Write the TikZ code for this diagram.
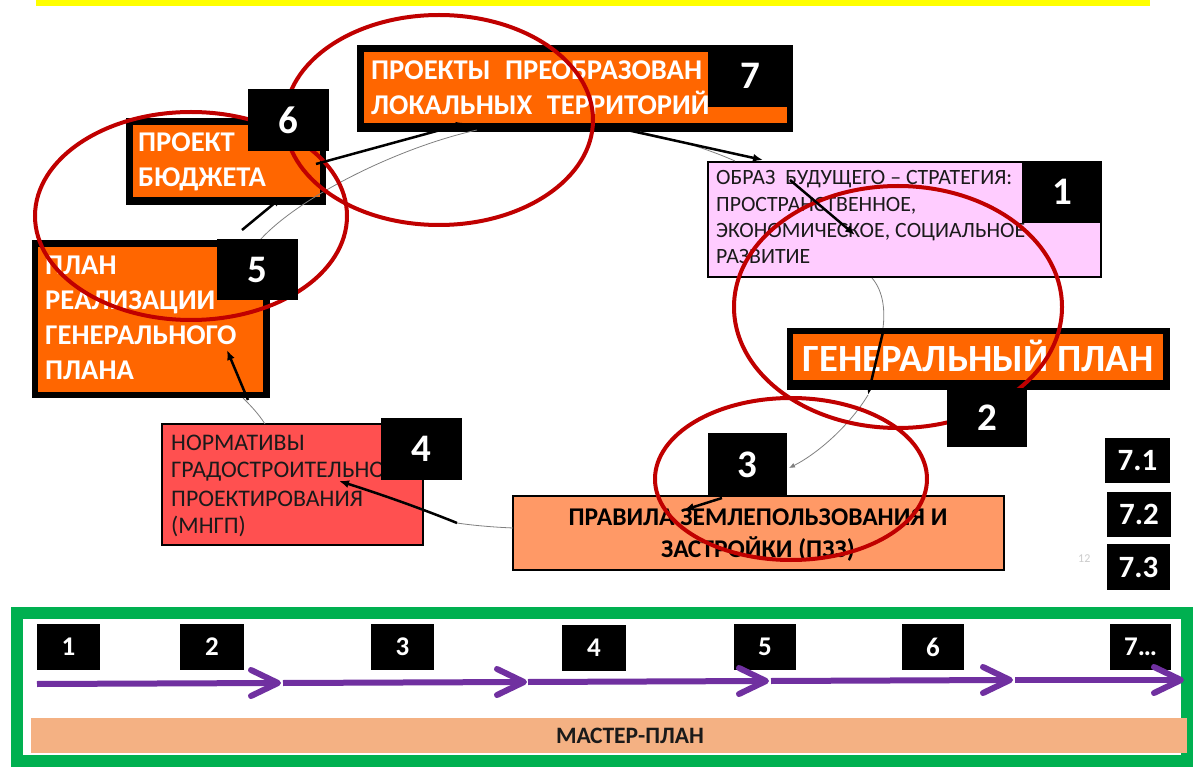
\documentclass[tikz,border=0pt]{standalone}
\usepackage{fontspec}
\setmainfont{Carlito}
\usetikzlibrary{arrows.meta,calc}
\definecolor{orng}{HTML}{FF6600}
\definecolor{pinkb}{HTML}{FFCCFF}
\definecolor{redb}{HTML}{FF5050}
\definecolor{salm}{HTML}{FF9966}
\definecolor{mastc}{HTML}{F4B183}
\definecolor{greenf}{HTML}{00B050}
\definecolor{purpc}{HTML}{7030A0}
\definecolor{ellred}{HTML}{C00000}
\definecolor{yelb}{HTML}{FFFF00}
\definecolor{darkt}{HTML}{1A1A1A}
\newcommand\myfs[2]{\fontsize{#1}{#2}\selectfont}
\begin{document}
\begin{tikzpicture}[x=1pt,y=-1pt,
  blackbox/.style={fill=black, inner sep=0pt, outer sep=0pt},
  orgbox/.style={fill=orng, inner sep=0pt, outer sep=0pt},
  numbox/.style={fill=black, text=white, font=\bfseries\myfs{39}{39}, inner sep=0pt, outer sep=0pt},
  smallnum/.style={fill=black, text=white, font=\bfseries\myfs{31}{31}, inner sep=0pt, outer sep=0pt},
  botnum/.style={fill=black, text=white, font=\bfseries\myfs{27}{27}, inner sep=0pt, outer sep=0pt, minimum height=46pt},
  wtxt/.style={text=white, font=\bfseries\myfs{28.6}{28.6}, inner sep=0pt, anchor=base west},
  ptxt/.style={text=darkt, font=\myfs{21.8}{21.8}, inner sep=0pt, anchor=base west},
  rtxt/.style={text=darkt, font=\myfs{23.8}{23.8}, inner sep=0pt, anchor=base west},
  thinln/.style={draw=gray, line width=0.8pt},
  thk/.style={draw=black, line width=2.5pt, -{Latex[length=10pt,width=8pt]}},
  redell/.style={draw=ellred, line width=4pt},
  purpline/.style={draw=purpc, line width=6pt},
  chev/.style={draw=purpc, line width=6pt, line cap=round, line join=round}
]
\useasboundingbox (0,0) rectangle (1195,767);
\fill[white] (0,0) rectangle (1195,767);

% top yellow bar
\fill[yelb] (36,0) rectangle (1150,6.5);

% ---- box 7
\node[blackbox, minimum width=436pt, minimum height=87pt] (b7out) at (575,88.5) {};
\node[orgbox, minimum width=423pt, minimum height=71pt] (b7in) at (575.5,87.5) {};
\node[wtxt] (t7a) at (371,80) {ПРОЕКТЫ\hspace{8pt} ПРЕОБРАЗОВАН};
\node[wtxt] (t7b) at (371,115) {ЛОКАЛЬНЫХ\hspace{8pt} ТЕРРИТОРИЙ};

% ---- box 6
\node[blackbox, minimum width=200pt, minimum height=87pt] (b6out) at (226,161.5) {};
\node[orgbox, minimum width=187pt, minimum height=72pt] (b6in) at (226.5,161) {};
\node[wtxt] (t6a) at (138,152) {ПРОЕКТ};
\node[wtxt] (t6b) at (138,187) {БЮДЖЕТА};

% ---- box 5
\node[blackbox, minimum width=238pt, minimum height=158pt] (b5out) at (151,319) {};
\node[orgbox, minimum width=225pt, minimum height=145pt] (b5in) at (150.5,319.5) {};
\node[wtxt] (t5a) at (45,275) {ПЛАН};
\node[wtxt] (t5b) at (45,310) {РЕАЛИЗАЦИИ};
\node[wtxt] (t5c) at (45,345) {ГЕНЕРАЛЬНОГО};
\node[wtxt] (t5d) at (45,380) {ПЛАНА};

% ---- box 1
\node[fill=pinkb, draw=black, line width=1.5pt, inner sep=0pt, minimum width=393pt, minimum height=115pt] (b1) at (904.5,219.5) {};
\node[ptxt] (t1a) at (716,185) {ОБРАЗ\hspace{5pt} БУДУЩЕГО – СТРАТЕГИЯ:};
\node[ptxt] (t1b) at (716,211.5) {ПРОСТРАНСТВЕННОЕ,};
\node[ptxt] (t1c) at (716,238) {ЭКОНОМИЧЕСКОЕ, СОЦИАЛЬНОЕ};
\node[ptxt] (t1d) at (716,264) {РАЗВИТИЕ};

% ---- box 2
\node[blackbox, minimum width=383pt, minimum height=62pt] (b2out) at (978.5,359) {};
\node[orgbox, minimum width=370pt, minimum height=46pt] (b2in) at (978,357) {};
\node[text=white, font=\bfseries\myfs{38.5}{38.5}, inner sep=0pt, anchor=base] (t2) at (978,372) {ГЕНЕРАЛЬНЫЙ ПЛАН};

% ---- box PZZ
\node[fill=salm, draw=black, line width=2pt, inner sep=0pt, minimum width=491pt, minimum height=74pt] (bp) at (758.5,533) {};
\node[text=black, font=\bfseries\myfs{25.5}{25.5}, inner sep=0pt, anchor=base] (tpa) at (758,525) {ПРАВИЛА ЗЕМЛЕПОЛЬЗОВАНИЯ И};
\node[text=black, font=\bfseries\myfs{25.5}{25.5}, inner sep=0pt, anchor=base] (tpb) at (758,557) {ЗАСТРОЙКИ (ПЗЗ)};

% ---- box 4
\node[fill=redb, draw=black, line width=2pt, inner sep=0pt, minimum width=261pt, minimum height=121pt] (b4) at (292.5,484.5) {};
\node[rtxt] (t4a) at (171,450) {НОРМАТИВЫ};
\node[rtxt] (t4b) at (171,477) {ГРАДОСТРОИТЕЛЬНО};
\node[rtxt] (t4c) at (171,506) {ПРОЕКТИРОВАНИЯ};
\node[rtxt] (t4d) at (171,533) {(МНГП)};

% ---- thin cycle lines
\coordinate (c7a) at (640,132);
\coordinate (c1a) at (735,161);
\coordinate (c1b) at (872,278);
\coordinate (c2a) at (883,328);
\coordinate (c2b) at (868,395);
\coordinate (c3a) at (789,468);
\coordinate (cpa) at (513,528);
\coordinate (cpb) at (457,523);
\coordinate (c4a) at (265,424);
\coordinate (c4b) at (243,398);
\coordinate (c5a) at (260,240);
\coordinate (c7b) at (477,130);
\draw[thinln] (c7a) .. controls (680,140) and (710,150) .. (c1a);
\draw[thinln] (c1b) .. controls (884,292) and (885,312) .. (c2a);
\draw[thinln, -{Latex[length=6pt,width=5pt]}] (c2b) .. controls (848,428) and (815,455) .. (c3a);
\draw[thinln] (cpa) .. controls (490,527) and (470,525) .. (cpb);
\draw[thinln] (c4a) .. controls (258,413) and (250,405) .. (c4b);
\draw[thinln] (c5a) .. controls (300,196) and (400,147) .. (c7b);

% ---- red ellipses
\draw[redell] (191,216) ellipse [x radius=156pt, y radius=104pt];
\draw[redell] (439,120) ellipse [x radius=154pt, y radius=105pt];
\draw[redell] (898,307) ellipse [x radius=164pt, y radius=121pt];
\draw[redell] (791,479) ellipse [x radius=136pt, y radius=81pt];

% ---- number boxes
\node[numbox, minimum width=85pt, minimum height=62pt] (n7) at (750.5,76) {7};
\node[numbox, minimum width=81pt, minimum height=62pt] (n6) at (288.5,120) {6};
\node[numbox, minimum width=81pt, minimum height=61pt] (n5) at (257.5,269.5) {5};
\node[numbox, minimum width=80pt, minimum height=62pt] (n1) at (1062,192) {1};
\node[numbox, minimum width=80pt, minimum height=59pt] (n2) at (987,417.5) {2};
\node[numbox, minimum width=79pt, minimum height=64pt] (n3) at (747.5,465) {3};
\node[numbox, minimum width=81pt, minimum height=62pt] (n4) at (421.5,449) {4};

\node[text=gray!40, font=\myfs{12}{12}, inner sep=0pt, anchor=base west] (pg) at (1078,562) {12};
\node[smallnum, minimum width=65pt, minimum height=45pt] (n71) at (1137.5,460.5) {7.1};
\node[smallnum, minimum width=64pt, minimum height=45pt] (n72) at (1139,514.5) {7.2};
\node[smallnum, minimum width=63pt, minimum height=46pt] (n73) at (1138.5,567) {7.3};

% ---- thick arrows
\coordinate (a7s) at (627,130);   \coordinate (a7e) at (763,160);
\coordinate (a1s) at (790,180);   \coordinate (a1e) at (855,235);
\coordinate (a2s) at (883,332);   \coordinate (a2e) at (868,395);
\coordinate (a3s) at (722,498);   \coordinate (a3e) at (684,510);
\coordinate (a4s) at (457,523);   \coordinate (a4e) at (339,481);
\coordinate (a5s) at (248,400);   \coordinate (a5e) at (227,350);
\coordinate (a6s) at (242,230);   \coordinate (a6e) at (282,197);
\coordinate (a8s) at (316,164);   \coordinate (a8e) at (466,123);
\draw[thk] (a7s) -- (a7e);
\draw[thk] (a1s) -- (a1e);
\draw[thk] (a2s) -- (a2e);
\draw[thk] (a3s) -- (a3e);
\draw[thk] (a4s) .. controls (420,508) and (380,494) .. (a4e);
\draw[thk] (a5s) -- (a5e);
\draw[thk] (a6s) -- (a6e);
\draw[thk] (a8s) -- (a8e);

% ---- bottom panel
\node[draw=greenf, line width=12pt, inner sep=0pt, minimum width=1170pt, minimum height=148pt] (frame) at (602,687) {};
\node[fill=mastc, inner sep=0pt, minimum width=1156pt, minimum height=35pt] (mast) at (609,735.5) {};
\node[text=darkt, font=\bfseries\myfs{23.5}{23.5}, inner sep=0pt] (mastt) at (630,736) {МАСТЕР-ПЛАН};

\node[botnum, minimum width=63pt] (m1) at (68.5,647) {1};
\node[botnum, minimum width=64pt] (m2) at (212,647) {2};
\node[botnum, minimum width=63pt] (m3) at (402.5,647) {3};
\node[botnum, minimum width=64pt] (m4) at (594,648) {4};
\node[botnum, minimum width=62pt] (m5) at (765,647) {5};
\node[botnum, minimum width=62pt] (m6) at (933,647) {6};
\node[botnum, minimum width=61pt] (m7) at (1140.5,647) {7…};

\coordinate (p0) at (37,684);
\coordinate (p1) at (278,683);  \coordinate (p1s) at (283,683);
\coordinate (p2) at (524,682);  \coordinate (p2s) at (528,682);
\coordinate (p3) at (766,681);  \coordinate (p3s) at (771,681);
\coordinate (p4) at (1010,680); \coordinate (p4s) at (1015,680);
\coordinate (p5) at (1181,680);
\draw[purpline] (p0) -- ($(p1)+(-2,0)$);
\draw[purpline] (p1s) -- ($(p2)+(-2,0)$);
\draw[purpline] (p2s) -- ($(p3)+(-2,0)$);
\draw[purpline] (p3s) -- ($(p4)+(-2,0)$);
\draw[purpline] (p4s) -- ($(p5)+(-2,0)$);
\foreach \t in {p1,p2,p3,p4,p5}{
  \draw[chev] ($(\t)+(-27,-13)$) -- (\t) -- ($(\t)+(-27,13)$);
}
\end{tikzpicture}
\end{document}
